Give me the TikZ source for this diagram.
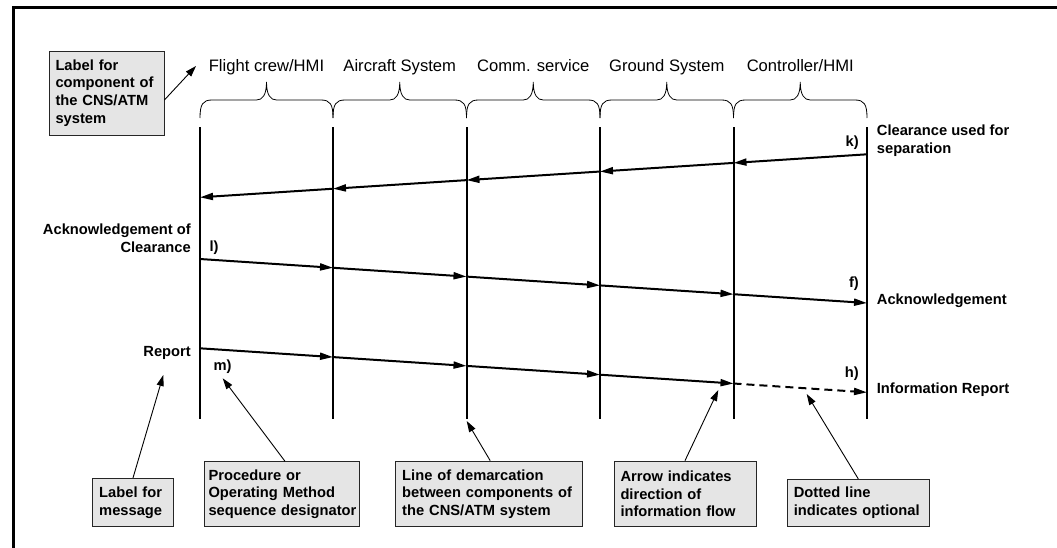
\documentclass[tikz,border=0pt]{standalone}
\usepackage{fontspec}
\setmainfont{Liberation Sans}
\usetikzlibrary{arrows.meta,calc}
\begin{document}
\begin{tikzpicture}[x=1pt,y=-1pt,
  vline/.style={line width=2pt},
  msg/.style={line width=2pt,-{Triangle[length=13pt,width=7pt]}},
  opt/.style={msg,dash pattern=on 8pt off 5pt},
  note/.style={line width=0.9pt,-{Triangle[length=11pt,width=7pt]}},
  bracepath/.style={line width=0.8pt},
  col/.style={font=\fontsize{16.6}{19}\selectfont,anchor=base,inner sep=0pt},
  lbl/.style={font=\bfseries\fontsize{14.7}{17.7}\selectfont,inner sep=0pt},
  box/.style={draw=black!85,line width=0.8pt,fill=gray!20,
    font=\bfseries\fontsize{14.7}{17.7}\selectfont,align=left,
    inner xsep=6.5pt,inner ysep=0pt}]
\useasboundingbox (0,0) rectangle (1057,547);
% frame
\draw[line width=3pt] (13,548) -- (13,7) -- (1058,7);

% component labels
\node[col] (c1) at (266.5,71) {Flight crew/HMI};
\node[col] (c2) at (399.75,71) {Aircraft System};
\node[col] (c3) at (533.25,71) {Comm. service};
\node[col] (c4) at (666.75,71) {Ground System};
\node[col] (c5) at (800.25,71) {Controller/HMI};

% braces
\foreach \a/\b in {200/333,333/466.5,466.5/600,600/733.5,733.5/867}{
  \pgfmathsetmacro\m{(\a+\b)/2}
  \draw[bracepath] (\a,118) .. controls (\a,104) and ({\a+3},100) .. ({\a+12},100)
    -- ({\m-10},100) .. controls ({\m-4},100) and (\m,95) .. (\m,82)
    .. controls (\m,95) and ({\m+4},100) .. ({\m+10},100)
    -- ({\b-12},100) .. controls ({\b-3},100) and (\b,104) .. (\b,118);
}

% vertical demarcation lines and crossing points
\foreach \i/\x in {1/200,2/333,3/466.5,4/600,5/733.5,6/867}{
  \coordinate (vt\i) at (\x,127);
  \coordinate (vb\i) at (\x,419);
  \coordinate (k\i) at (\x,{154.3+0.0645*(867-\x)});
  \coordinate (l\i) at (\x,{259+0.066*(\x-200)});
  \coordinate (m\i) at (\x,{348.3+0.066*(\x-200)});
}
\foreach \i in {1,...,6}{\draw[vline] (vt\i) -- (vb\i);}

% messages
\foreach \i/\j in {6/5,5/4,4/3,3/2,2/1}{\draw[msg] (k\i) -- (k\j);}
\foreach \i/\j in {1/2,2/3,3/4,4/5,5/6}{\draw[msg] (l\i) -- (l\j);}
\foreach \i/\j in {1/2,2/3,3/4,4/5}{\draw[msg] (m\i) -- (m\j);}
\draw[opt] (m5) -- (m6);

% message labels
\node[lbl,anchor=base east] (kk) at (859,146) {k)};
\node[lbl,anchor=base west,align=left] (kt) at (876.7,153.3) {Clearance used for\\separation};
\node[lbl,anchor=base east,align=right] (lt) at (191,252.3) {Acknowledgement of\\Clearance};
\node[lbl,anchor=base west] (ll) at (209.3,251) {l)};
\node[lbl,anchor=base east] (ff) at (859,287) {f)};
\node[lbl,anchor=base west] (ft) at (876.7,304.3) {Acknowledgement};
\node[lbl,anchor=base east] (rt) at (191,356.7) {Report};
\node[lbl,anchor=base west] (mm) at (213.3,370) {m)};
\node[lbl,anchor=base east] (hh) at (859,377.5) {h)};
\node[lbl,anchor=base west] (ht) at (876.7,393.3) {Information Report};

% annotation boxes
\node[box,text width=102pt,minimum height=84pt] (lc) at (106.5,93)
  {Label for\\component of\\the CNS/ATM\\system};
\node[box,text width=67.6pt,minimum height=48.4pt] (nb1) at (133,502.5)
  {Label for\\message};
\node[box,inner xsep=4.5pt,text width=146pt,minimum height=65pt] (nb2) at (281.5,494.2)
  {Procedure or\\Operating Method\\\mbox{sequence designator}};
\node[box,text width=174pt,minimum height=65.7pt] (nb3) at (489.2,493.9)
  {Line of demarcation\\between components of\\the CNS/ATM system};
\node[box,text width=129pt,minimum height=65.7pt] (nb4) at (685,493.9)
  {Arrow indicates\\direction of\\information flow};
\node[box,text width=129pt,minimum height=47.4pt] (nb5) at (858.3,503)
  {Dotted line\\indicates optional};

% annotation arrows
\coordinate (tlc) at (196,66);
\coordinate (tb1) at (163.3,375);
\coordinate (tb2) at (222.7,378.3);
\coordinate (tb3) at (466.7,421);
\coordinate (tb4) at (718.3,390);
\coordinate (tb5) at (806.7,394);
\draw[note] ([yshift=-7pt]lc.east) -- (tlc);
\draw[note] (nb1.north) -- (tb1);
\draw[note] ([xshift=3.5pt]nb2.north) -- (tb2);
\draw[note] ([xshift=1pt]nb3.north) -- (tb3);
\draw[note] (nb4.north) -- (tb4);
\draw[note] (nb5.north) -- (tb5);
\end{tikzpicture}
\end{document}
